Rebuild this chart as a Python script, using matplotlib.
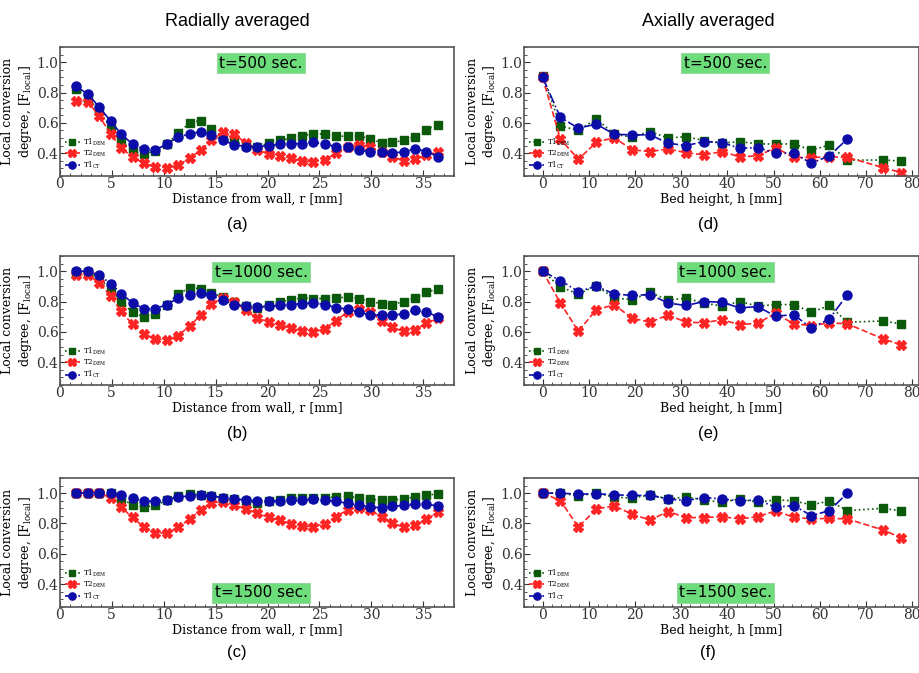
import numpy as np
import matplotlib
matplotlib.use('Agg')
import matplotlib.pyplot as plt
from matplotlib.ticker import MultipleLocator

# --------------- data ----------------------------------------------
r_mm = [1.6, 2.7, 3.8, 4.9, 5.9, 7.0, 8.1, 9.2, 10.3, 11.4, 12.5, 13.6, 14.6,
        15.7, 16.8, 17.9, 19.0, 20.1, 21.2, 22.3, 23.3, 24.4, 25.5, 26.6,
        27.7, 28.8, 29.9, 31.0, 32.0, 33.1, 34.2, 35.3, 36.4]
h_mm = [0, 3.88, 7.76, 11.64, 15.52, 19.4, 23.28, 27.16, 31.04, 34.92, 38.8,
        42.68, 46.56, 50.44, 54.32, 58.2, 62.08, 65.96, 73.72, 77.6]
h_ct = h_mm[:18]

# radially averaged, t=500
rad_t1dem_500 = [0.822, 0.767, 0.678, 0.567, 0.478, 0.416, 0.393, 0.416, 0.46, 0.533, 0.60,
                 0.615, 0.562, 0.51, 0.48, 0.449, 0.44, 0.467, 0.484, 0.50, 0.516, 0.527,
                 0.527, 0.511, 0.513, 0.513, 0.496, 0.467, 0.471, 0.484, 0.51, 0.556, 0.589]
rad_t2dem_500 = [0.744, 0.738, 0.644, 0.527, 0.433, 0.378, 0.333, 0.311, 0.304, 0.322, 0.367,
                 0.422, 0.484, 0.538, 0.527, 0.467, 0.422, 0.396, 0.384, 0.367, 0.349, 0.342,
                 0.356, 0.40, 0.44, 0.456, 0.44, 0.411, 0.378, 0.351, 0.362, 0.389, 0.407]
rad_t1ct_500 = [0.84, 0.789, 0.704, 0.611, 0.527, 0.46, 0.427, 0.422, 0.46, 0.507, 0.527,
                0.542, 0.522, 0.484, 0.456, 0.444, 0.444, 0.449, 0.46, 0.462, 0.464, 0.471,
                0.46, 0.444, 0.438, 0.422, 0.409, 0.409, 0.404, 0.407, 0.429, 0.411, 0.378]
# radially averaged, t=1000
rad_t1dem_1000 = [0.996, 0.996, 0.956, 0.88, 0.80, 0.73, 0.70, 0.72, 0.78, 0.85, 0.89,
                  0.885, 0.857, 0.83, 0.80, 0.77, 0.757, 0.775, 0.80, 0.81, 0.823, 0.82,
                  0.82, 0.823, 0.83, 0.82, 0.80, 0.786, 0.78, 0.80, 0.823, 0.86, 0.885]
rad_t2dem_1000 = [0.978, 0.974, 0.925, 0.834, 0.735, 0.65, 0.587, 0.554, 0.547, 0.576, 0.638,
                  0.713, 0.786, 0.823, 0.80, 0.742, 0.69, 0.665, 0.647, 0.625, 0.605, 0.598,
                  0.62, 0.675, 0.73, 0.753, 0.73, 0.675, 0.63, 0.603, 0.614, 0.658, 0.69]
rad_t1ct_1000 = [1.0, 1.0, 0.974, 0.918, 0.852, 0.792, 0.753, 0.753, 0.78, 0.823, 0.845,
                 0.858, 0.84, 0.808, 0.78, 0.77, 0.764, 0.768, 0.775, 0.78, 0.786, 0.792,
                 0.78, 0.76, 0.75, 0.73, 0.713, 0.709, 0.709, 0.72, 0.742, 0.73, 0.70]
# radially averaged, t=1500
rad_t1dem_1500 = [1.0, 1.0, 1.0, 1.0, 0.963, 0.923, 0.908, 0.919, 0.952, 0.982, 0.996,
                  0.989, 0.978, 0.971, 0.96, 0.945, 0.938, 0.945, 0.956, 0.967, 0.971, 0.967,
                  0.967, 0.976, 0.978, 0.969, 0.96, 0.954, 0.954, 0.963, 0.974, 0.985, 0.996]
rad_t2dem_1500 = [1.0, 1.0, 1.0, 0.971, 0.908, 0.84, 0.776, 0.74, 0.736, 0.774, 0.83,
                  0.89, 0.938, 0.941, 0.923, 0.895, 0.868, 0.842, 0.82, 0.798, 0.782, 0.78,
                  0.798, 0.846, 0.89, 0.905, 0.886, 0.846, 0.802, 0.776, 0.787, 0.829, 0.873]
rad_t1ct_1500 = [1.0, 1.0, 1.0, 1.0, 0.989, 0.967, 0.949, 0.945, 0.956, 0.974, 0.982,
                 0.985, 0.982, 0.971, 0.963, 0.954, 0.949, 0.945, 0.949, 0.952, 0.954, 0.96,
                 0.954, 0.945, 0.934, 0.919, 0.908, 0.905, 0.912, 0.919, 0.927, 0.927, 0.916]

# axially averaged
ax_t1dem_500 = [0.912, 0.58, 0.55, 0.627, 0.525, 0.506, 0.543, 0.499, 0.51, 0.483, 0.466,
                0.477, 0.461, 0.461, 0.461, 0.42, 0.455, 0.355, 0.355, 0.349]
ax_t2dem_500 = [0.90, 0.492, 0.36, 0.472, 0.503, 0.422, 0.411, 0.428, 0.404, 0.389, 0.411,
                0.377, 0.382, 0.437, 0.373, 0.371, 0.377, 0.373, 0.305, 0.272]
ax_t1ct_500 = [0.90, 0.636, 0.565, 0.592, 0.525, 0.521, 0.521, 0.466, 0.45, 0.477, 0.47,
               0.433, 0.437, 0.40, 0.40, 0.333, 0.384, 0.494]
ax_t1dem_1000 = [1.0, 0.895, 0.85, 0.905, 0.822, 0.813, 0.86, 0.81, 0.822, 0.79, 0.77,
                 0.80, 0.77, 0.78, 0.78, 0.73, 0.774, 0.664, 0.672, 0.653]
ax_t2dem_1000 = [1.0, 0.79, 0.604, 0.747, 0.778, 0.69, 0.664, 0.712, 0.664, 0.66, 0.68,
                 0.648, 0.657, 0.723, 0.653, 0.642, 0.66, 0.653, 0.554, 0.514]
ax_t1ct_1000 = [1.0, 0.938, 0.866, 0.901, 0.85, 0.84, 0.846, 0.79, 0.774, 0.80, 0.796,
                0.758, 0.767, 0.703, 0.714, 0.624, 0.686, 0.846]
ax_t1dem_1500 = [1.0, 1.0, 0.982, 1.0, 0.974, 0.967, 0.989, 0.962, 0.974, 0.956, 0.94,
                 0.962, 0.94, 0.956, 0.949, 0.923, 0.949, 0.885, 0.90, 0.883]
ax_t2dem_1500 = [1.0, 0.951, 0.775, 0.896, 0.916, 0.861, 0.823, 0.879, 0.839, 0.839, 0.845,
                 0.83, 0.845, 0.883, 0.841, 0.83, 0.834, 0.83, 0.757, 0.706]
ax_t1ct_1500 = [1.0, 1.0, 0.993, 0.996, 0.989, 0.985, 0.985, 0.962, 0.951, 0.971, 0.962,
                0.949, 0.956, 0.907, 0.918, 0.852, 0.885, 1.0]

times = [500, 1000, 1500]
panel_labels = ['(a)', '(b)', '(c)', '(d)', '(e)', '(f)']

# --------------- plot settings --------------------------
params = {'font.family': 'DejaVu Serif',
          'axes.labelsize': 9,
          'xtick.labelsize': 10,
          'ytick.labelsize': 10,
          'axes.edgecolor': '#555555',
          'axes.linewidth': 1.2,
          'xtick.direction': 'in',
          'ytick.direction': 'in'}
plt.rcParams.update(params)

c_g = '#0b5a0b'
c_r = '#ff2424'
c_b = '#0c0ca8'
box_col = '#6ddc7a'

fig = plt.figure(figsize=(9.2, 6.73), dpi=100)

bottoms = [0.7385, 0.4279, 0.0981]
lefts = [0.065, 0.5696]
h = 0.1917

rad = [(rad_t1dem_500, rad_t2dem_500, rad_t1ct_500),
       (rad_t1dem_1000, rad_t2dem_1000, rad_t1ct_1000),
       (rad_t1dem_1500, rad_t2dem_1500, rad_t1ct_1500)]
axl = [(ax_t1dem_500, ax_t2dem_500, ax_t1ct_500),
       (ax_t1dem_1000, ax_t2dem_1000, ax_t1ct_1000),
       (ax_t1dem_1500, ax_t2dem_1500, ax_t1ct_1500)]

for col in range(2):
    for row in range(3):
        ax = fig.add_axes([lefts[col], bottoms[row], 0.429, h])
        if col == 0:
            x1, x2, x3 = r_mm, r_mm, r_mm
            d1, d2, d3 = rad[row]
        else:
            x1, x2, x3 = h_mm, h_mm, h_ct
            d1, d2, d3 = axl[row]
        ax.plot(x1, d1, ls=':', color=c_g, marker='s', ms=6, lw=1.2, label='T1$_{\\mathregular{DEM}}$')
        ax.plot(x2, d2, ls='--', color=c_r, marker='X', ms=7, lw=1.2, label='T2$_{\\mathregular{DEM}}$')
        ax.plot(x3, d3, ls='-.', color=c_b, marker='o', ms=6.5, lw=1.2, label='T1$_{\\mathregular{CT}}$')

        ax.set_ylim(0.25, 1.1)
        ax.yaxis.set_minor_locator(MultipleLocator(0.05))
        ax.set_yticks([0.4, 0.6, 0.8, 1.0])
        if col == 0:
            ax.set_xlim(0, 38)
            ax.xaxis.set_major_locator(MultipleLocator(5))
            ax.xaxis.set_minor_locator(MultipleLocator(1))
            ax.set_xlabel('Distance from wall, r [mm]', labelpad=1)
        else:
            ax.set_xlim(-4, 81.4)
            ax.xaxis.set_major_locator(MultipleLocator(10))
            ax.xaxis.set_minor_locator(MultipleLocator(2))
            ax.set_xlabel('Bed height, h [mm]', labelpad=1)
        ax.tick_params(which='major', length=4, pad=1, colors='#333333')
        ax.tick_params(which='minor', length=2, colors='#333333')
        ax.set_ylabel('Local conversion\ndegree, [F$_{\\mathregular{local}}$]', labelpad=2)

        ty = 0.875 if row < 2 else 0.11
        ax.text(0.51, ty, f't={times[row]} sec.', transform=ax.transAxes, ha='center', va='center',
                fontsize=11, family='DejaVu Sans',
                bbox=dict(boxstyle='square,pad=0.15', fc=box_col, ec='#9ad6a0', lw=0.8))

        ax.legend(loc='lower left', fontsize=5, frameon=False, handlelength=2.2,
                  markerscale=0.8, borderaxespad=0.3, labelspacing=0.15, handletextpad=0.4)

        fig.text(0.2576 if col == 0 else 0.7696, bottoms[row] - 0.072 + (0.0 if row < 2 else 0.004),
                 panel_labels[col * 3 + row], ha='center', va='center', fontsize=12,
                 family='Liberation Sans')

fig.text(0.2576, 0.968, 'Radially averaged', ha='center', va='center', fontsize=13, family='Liberation Sans')
fig.text(0.7696, 0.968, 'Axially averaged', ha='center', va='center', fontsize=13, family='Liberation Sans')

fig.savefig('out.png', dpi=100)
